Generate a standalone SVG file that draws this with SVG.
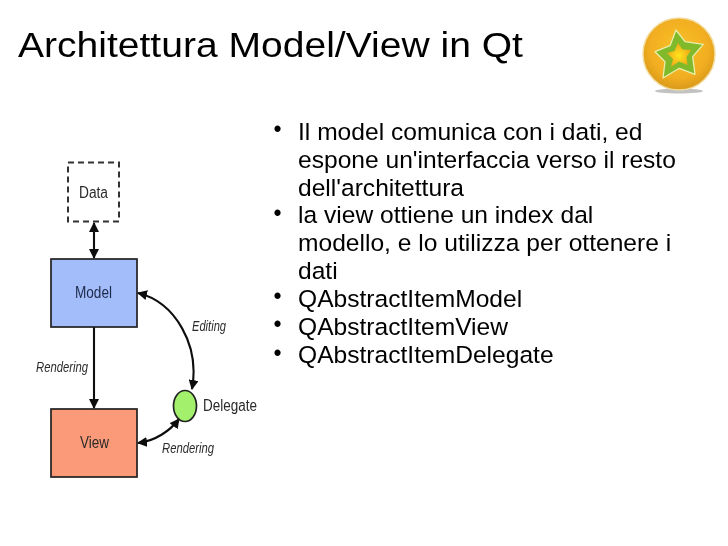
<svg xmlns="http://www.w3.org/2000/svg" width="728" height="546" viewBox="0 0 728 546">
<style>
.t{font-family:"Liberation Sans",Arial,sans-serif;fill:#000}
.b{font-size:23.500px}
.d{font-size:23px}
.l{font-family:"Liberation Sans",Arial,sans-serif;fill:#2a2a2a;font-size:16px}
.i{font-style:italic;font-size:14.500px}
.c{fill:none;stroke:#111;stroke-width:2.100}
.n{stroke:#222;stroke-width:1.700}
</style>
<defs>
<marker id="a" viewBox="0 0 10 10" refX="9" refY="5" markerWidth="10" markerHeight="10" markerUnits="userSpaceOnUse" orient="auto-start-reverse"><path d="M0 0L10 5L0 10Z" fill="#111"/></marker>
<radialGradient id="g" cx="50%" cy="42%" r="58%"><stop offset="0" stop-color="#f8c22a"/><stop offset=".7" stop-color="#f2ae20"/><stop offset="1" stop-color="#d99a1e"/></radialGradient>
<radialGradient id="s" cx="50%" cy="52%" r="50%"><stop offset="0" stop-color="#ffe41e"/><stop offset="1" stop-color="#eeaa18"/></radialGradient>
<filter id="soft" x="-5%" y="-5%" width="110%" height="110%"><feGaussianBlur stdDeviation="0.55"/></filter>
<filter id="soft2" x="-5%" y="-5%" width="110%" height="110%"><feGaussianBlur stdDeviation="0.3"/></filter>
</defs>
<rect width="728" height="546" fill="#fff"/>
<text class="t" transform="translate(18 57.300) scale(1.085 1)" font-size="36px" filter="url(#soft2)">Architettura Model/View in Qt</text>
<g id="logo" filter="url(#soft)">
<ellipse cx="679" cy="91" rx="24" ry="2.500" fill="#999" opacity=".6"/>
<circle cx="679" cy="54" r="36" fill="url(#g)" stroke="#f2dc9c" stroke-width="1.500"/>
<path d="M676 30L685 41.700L703.300 44.300L692.700 56.700L695 74.300L679.300 68.300L663 78L665 61.700L655 51.700L670 45.700Z" fill="#80ba2c" stroke="#e8efa8" stroke-width="1.300" stroke-linejoin="round"/>
<path d="M678 43L682.500 49.500L691 50L686.500 57L687.500 65L679 61.500L671 67L673 59L667 53L674.500 51Z" fill="url(#s)"/>
</g>
<g id="bullet-marks" class="t" filter="url(#soft2)">
<text class="d" x="273.500" y="137">•</text>
<text class="d" x="273.500" y="220.500">•</text>
<text class="d" x="273.500" y="304">•</text>
<text class="d" x="273.500" y="332">•</text>
<text class="d" x="273.500" y="361">•</text>
</g>
<g id="bullets" class="t b" transform="translate(298 0) scale(1.047 1)" filter="url(#soft2)">
<text x="0" y="140">Il model comunica con i dati, ed</text>
<text x="0" y="167.800">espone un'interfaccia verso il resto</text>
<text x="0" y="195.700">dell'architettura</text>
<text x="0" y="223.500">la view ottiene un index dal</text>
<text x="0" y="251.400">modello, e lo utilizza per ottenere i</text>
<text x="0" y="279.200">dati</text>
<text x="0" y="307">QAbstractItemModel</text>
<text x="0" y="334.900">QAbstractItemView</text>
<text x="0" y="362.700">QAbstractItemDelegate</text>
</g>
<g id="connectors" filter="url(#soft)">
<path class="c" d="M94 223V258" marker-start="url(#a)" marker-end="url(#a)"/>
<path class="c" d="M94 327V408" marker-end="url(#a)"/>
<path class="c" d="M138 293C175 302 200 345 192 389" marker-start="url(#a)" marker-end="url(#a)"/>
<path class="c" d="M138 443C155 441 170 431 179 419" marker-start="url(#a)" marker-end="url(#a)"/>
</g>
<g id="data" filter="url(#soft)"><rect x="68" y="162.500" width="51" height="59" fill="#fff" stroke="#333" stroke-width="2" stroke-dasharray="6 4"/><text class="l" x="79" y="198" textLength="29" lengthAdjust="spacingAndGlyphs">Data</text></g>
<g id="model" filter="url(#soft)"><rect class="n" x="51" y="259" width="86" height="68" fill="#a3bdfb"/><text class="l" x="75" y="298" textLength="37" lengthAdjust="spacingAndGlyphs" style="fill:#1f2a4a">Model</text></g>
<g id="view" filter="url(#soft)"><rect class="n" x="51" y="409" width="86" height="68" fill="#fb9a78"/><text class="l" x="80" y="448" textLength="29" lengthAdjust="spacingAndGlyphs">View</text></g>
<g id="delegate" filter="url(#soft)"><ellipse class="n" cx="185" cy="406" rx="11.500" ry="15.500" fill="#a2f06c"/><text class="l" x="203" y="411" textLength="54" lengthAdjust="spacingAndGlyphs">Delegate</text></g>
<g id="labels" filter="url(#soft)">
<text class="l i" x="36" y="372" textLength="52" lengthAdjust="spacingAndGlyphs">Rendering</text>
<text class="l i" x="192" y="331" textLength="34" lengthAdjust="spacingAndGlyphs">Editing</text>
<text class="l i" x="162" y="453" textLength="52" lengthAdjust="spacingAndGlyphs">Rendering</text>
</g>
</svg>
